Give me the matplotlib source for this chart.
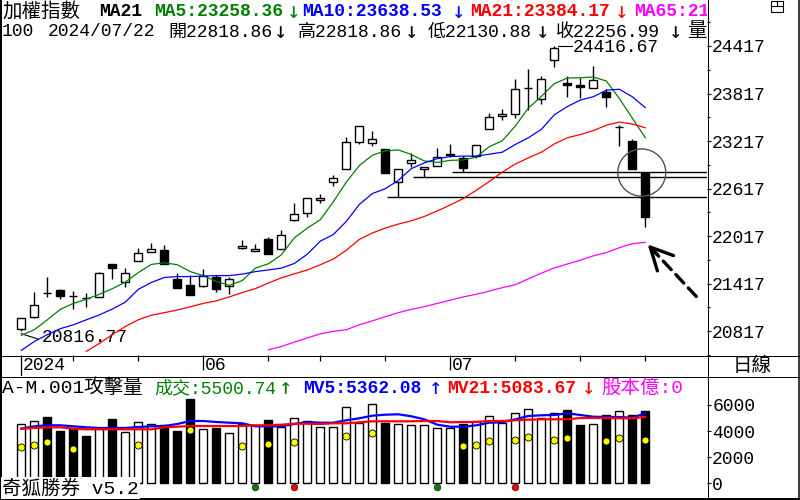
import numpy as np
import pandas as pd
import matplotlib
matplotlib.use("Agg")
import matplotlib.pyplot as plt
from matplotlib.patches import Ellipse, Rectangle
from matplotlib.lines import Line2D

plt.rcParams['font.family'] = ['Liberation Mono', 'Noto Sans CJK TC']

# trading days on screen (2024/06/10 was a holiday)
dates = pd.bdate_range("2024-05-14", "2024-07-22")
dates = dates[dates != pd.Timestamp("2024-06-10")]

opens = [20845, 20994, 21305, 21342, 21266, 21236, 21255, 21668, 21441, 21702,
         21814, 21842, 21478, 21395, 21387, 21507, 21387, 21863, 21826, 21979,
         21851, 22224, 22311, 22475, 22696, 22861, 23209, 23192, 23118, 22696,
         22944, 22869, 22907, 23035, 23006, 23026, 23370, 23532, 23553, 23886,
         23751, 24246, 23953, 23925, 23888, 23833, 23391, 23217, 22818.86]
highs = [20990, 21312, 21507, 21345, 21324, 21300, 21560, 21670, 21610, 21867,
         21929, 21904, 21553, 21532, 21606, 21528, 21507, 21967, 21913, 22000,
         22091, 22439, 22497, 22554, 22790, 23271, 23404, 23341, 23118, 22869,
         23072, 22894, 23134, 23184, 23031, 23168, 23569, 23627, 24000, 24128,
         24041, 24416.67, 24037, 24012, 24161, 23879, 23423, 23237, 22818.86]
lows = [20816.77, 20990, 21250, 21218, 21101, 21126, 21255, 21478, 21374, 21700,
        21814, 21665, 21367, 21280, 21374, 21312, 21283, 21851, 21826, 21796,
        21851, 22211, 22261, 22435, 22646, 22861, 23184, 23150, 22815, 22509,
        22894, 22761, 22907, 23022, 22832, 23001, 23370, 23485, 23507, 23610,
        23684, 24156, 23776, 23755, 23888, 23647, 23155, 22865, 22130.88]
closes = [20982, 21143, 21300, 21267, 21262, 21232, 21548, 21610, 21553, 21801,
          21851, 21665, 21367, 21280, 21519, 21349, 21473, 21888, 21851, 21796,
          22037, 22298, 22497, 22495, 22745, 23209, 23404, 23242, 22815, 22869,
          22981, 22894, 23019, 23058, 22882, 23168, 23515, 23555, 23875, 23890,
          24000, 24385, 23928, 23900, 23987, 23771, 23395, 22869, 22256.99]

nan = np.nan
ma5 = [20765, 20836, 20961, 21093, 21168, 21221, 21283, 21354, 21436, 21557,
       21660, 21681, 21656, 21569, 21519, 21445, 21395, 21457, 21613, 21668,
       21780, 21995, 22119, 22224, 22451, 22699, 22907, 23038, 23093, 23105,
       23047, 22966, 22948, 22973, 22979, 23016, 23146, 23221, 23407, 23631,
       23780, 23941, 24012, 24016, 24025, 23975, 23755, 23507, 23258.36]
ma10 = [20575, 20687, 20774, 20849, 20898, 20961, 21023, 21097, 21184, 21345,
        21432, 21495, 21507, 21507, 21513, 21519, 21519, 21538, 21569, 21590,
        21613, 21672, 21789, 21954, 22037, 22203, 22417, 22554, 22616, 22720,
        22869, 22941, 22995, 23022, 23027, 23027, 23051, 23076, 23174, 23258,
        23364, 23548, 23652, 23734, 23776, 23858, 23871, 23776, 23638.53]
ma21 = [nan, nan, nan, nan, nan, 20563, 20662, 20774, 20877, 20961,
        21019, 21051, 21085, 21126, 21168, 21200, 21250, 21305, 21354, 21424,
        21491, 21541, 21590, 21656, 21727, 21839, 21975, 22057, 22119, 22169,
        22211, 22265, 22335, 22410, 22492, 22596, 22706, 22824, 22927, 23004,
        23076, 23180, 23258, 23299, 23349, 23416, 23457, 23432, 23384.17]
ma65 = [nan] * 19 + [20582,
        20625, 20679, 20733, 20783, 20815, 20836, 20898, 20948, 21001, 21051,
        21093, 21126, 21168, 21209, 21250, 21283, 21324, 21367, 21404, 21478,
        21550, 21615, 21665, 21714, 21768, 21809, 21871, 21921, 21938.16]

volume = [4542, 4772, 5079, 4029, 4213, 3623, 4236, 4925, 3953, 4696,
          4542, 4443, 4029, 6457, 4159, 4236, 3853, 4542, 4443, 4849,
          4336, 4979, 4772, 4336, 4336, 5845, 4642, 6074, 4642, 4542,
          4466, 4466, 4213, 4213, 4542, 4772, 5132, 4642, 5362, 5668,
          4977, 5362, 5592, 4440, 4520, 5209, 5561, 5209, 5500.74]
mv5 = [4182, 4366, 4443, 4443, 4366, 4290, 4236, 4236, 4236, 4313,
       4366, 4389, 4542, 4772, 4772, 4696, 4642, 4596, 4366, 4366,
       4366, 4542, 4696, 4642, 4642, 4826, 4979, 5178, 5255, 5285,
       5132, 4902, 4489, 4336, 4336, 4443, 4642, 4673, 4902, 5155,
       5209, 5232, 5362, 5232, 5102, 5079, 5079, 5025, 5362.08]
mv21 = [4182, 4236, 4290, 4290, 4182, 4136, 4136, 4136, 4136, 4136,
        4136, 4290, 4336, 4389, 4389, 4389, 4389, 4389, 4443, 4443,
        4489, 4565, 4565, 4542, 4596, 4596, 4673, 4749, 4749, 4749,
        4749, 4772, 4772, 4673, 4696, 4696, 4772, 4772, 4826, 4872,
        4902, 4902, 4902, 5002, 5002, 5002, 4979, 4979, 5083.67]
# yellow "attack volume" dots
atk_idx = [0, 1, 2, 4, 9, 13, 17, 19, 21, 25, 27, 34, 35, 36, 38, 39, 41, 42, 45, 46, 48]
atk_val = [2804, 2957, 3187, 2650, 2957, 4106, 2857, 3033, 3141, 3646, 3876,
           2880, 2957, 3263, 3340, 3570, 3340, 3470, 3263, 3493, 3340]
buy_idx = [18, 32]
sell_idx = [21, 38]
support_idx = [29, 31, 34]

W, H = 800, 500
fig = plt.figure(figsize=(8, 5), dpi=100, facecolor='white')


def box(x0, y0, x1, y1):
    return [x0 / W, 1 - y1 / H, (x1 - x0) / W, (y1 - y0) / H]


def px(x, y):
    return x / W, 1 - y / H


def arrow_glyph(x, y, ch, color):
    # tall thin arrow like the bitmap font of the original
    fig.text(*px(x, y + 1), ch, color=color, family='DejaVu Sans Mono', fontsize=16,
             ha='center', va='baseline')


n = len(closes)
idx = np.arange(n)
xlim = (-(21.3 - 2) / 13, (707 - 21.3) / 13)
up = np.array(closes) >= np.array(opens)

# price panel
ax = fig.add_axes(box(2, 0, 707, 355))
ax.set_xlim(*xlim)
ax.set_ylim(20588, 24997)
for s in ax.spines.values():
    s.set_visible(False)
ax.set_xticks([])
ax.yaxis.tick_right()
ax.set_yticks(np.arange(20817, 24418, 600))
ax.set_yticks(np.arange(20517, 24998, 300), minor=True)
ax.tick_params(axis='y', which='major', length=3.2, width=0.8, pad=0.5, labelsize=13)
ax.tick_params(axis='y', which='minor', length=1.8, width=0.8)

ax.vlines(idx, lows, highs, color='black', lw=1.0, zorder=2)
ax.bar(idx, np.abs(np.array(closes) - np.array(opens)), bottom=np.minimum(opens, closes),
       width=0.62, color=np.where(up, 'white', 'black'), edgecolor='black', linewidth=1.0, zorder=3)

ax.plot(idx, ma5, color='#008000', lw=0.9, zorder=4)
ax.plot(idx, ma10, color='#0000ff', lw=0.9, zorder=4)
ax.plot(idx, ma21, color='#ff0000', lw=0.9, zorder=4)
ax.plot(idx, ma65, color='#ff00ff', lw=0.9, zorder=4)

for i in support_idx:
    ax.hlines(lows[i], i - 0.85, xlim[1], color='black', lw=1.0, zorder=1)

# highest / lowest labels
hi = int(np.argmax(highs))
ax.plot([hi + 0.25, hi + 1.35], [highs[hi], highs[hi]], color='black', lw=0.8)
ax.text(hi + 1.45, highs[hi] - 25, f'{highs[hi]:.2f}', fontsize=13, va='center')
lo = int(np.argmin(lows))
ax.plot([lo, lo + 1.3], [lows[lo] - 30, lows[lo] - 100], color='black', lw=0.8)
ax.text(lo + 1.55, lows[lo] - 85, f'{lows[lo]:.2f}', fontsize=13, va='center')

# breakdown circle and arrow
ax.add_patch(Ellipse((n - 1.27, opens[-1]), 48 / 13, 48 * 12.42, fill=False,
                     edgecolor='#505050', lw=1.0, zorder=5))
ax.annotate('', xy=(n - 1 + 0.18, ma65[-1] - 25), xytext=(35, -37.5), textcoords='offset points',
            arrowprops=dict(arrowstyle='-', lw=2.4, linestyle=(0, (3.5, 2)), color='black',
                            shrinkA=0, shrinkB=4))
ax.annotate('', xy=(n - 1 + 0.18, ma65[-1] - 25), xytext=(7, -7.4), textcoords='offset points',
            arrowprops=dict(arrowstyle='->,head_length=0.8,head_width=0.4', lw=2.4, color='black',
                            shrinkA=0, shrinkB=0, mutation_scale=20))

# header line 1
bold = dict(fontsize=13, fontweight='bold')
reg = dict(fontsize=13)
fig.text(*px(2, 16.5), '加權指數', color='black', va='baseline', fontsize=14)
fig.text(*px(99, 16.5), 'MA21', color='black', va='baseline', **bold)
for x0, xa, lab, v, col in [(154, 294, 'MA5', ma5[-1], '#008000'),
                            (301.7, 459, 'MA10', ma10[-1], '#0000ff'),
                            (470, 622, 'MA21', ma21[-1], '#ff0000')]:
    fig.text(*px(x0, 16.5), f'{lab}:{v:.2f}', color=col, va='baseline', **bold)
    arrow_glyph(xa, 16.5, '↓', col)
ax.text(*px(634, 16.5), f'MA65:{ma65[-1]:.2f}', color='#ff00ff', va='baseline',
        transform=fig.transFigure, clip_on=True, **bold)

# header line 2
day = dates[-1].strftime('%Y/%m/%d')
fig.text(*px(2, 36.5), '100', va='baseline', **reg)
fig.text(*px(48, 36.5), day, va='baseline', **reg)
for xx, xa, lab, v in [(168, 281, '開', opens[-1]), (298, 412, '高', highs[-1]),
                       (428, 543, '低', lows[-1]), (556, 676, '收', closes[-1])]:
    fig.text(*px(xx, 36.5), f'{lab}{v:.2f}', va='baseline', **reg)
    arrow_glyph(xa, 36.5, '↓', 'black')
ax.text(*px(687, 36.5), '量', va='baseline', transform=fig.transFigure, clip_on=True, fontsize=14)

# date strip
axd = fig.add_axes(box(2, 355, 707, 376))
axd.set_xlim(*xlim)
axd.set_ylim(0, 21)
axd.axis('off')
wk = dates.isocalendar().week.values
week_start = [i for i in range(n) if i == 0 or wk[i] != wk[i - 1]]
month_start = [i for i in range(1, n) if dates[i].month != dates[i - 1].month]
for i in week_start:
    if i == 0:
        y0 = 0
    elif i in month_start:
        y0 = 6
    else:
        y0 = 15
    axd.vlines(i, y0, 21, color='black', lw=0.9)
axd.text(0 + 0.15, 10, dates[0].strftime('%Y'), fontsize=13, va='center')
for i in month_start:
    axd.text(i + 0.15, 10, dates[i].strftime('%m'), fontsize=13, va='center')
fig.text(*px(752, 366), '日線', fontsize=14, ha='center', va='center')

# volume panel
axv = fig.add_axes(box(2, 376, 707, 497))
axv.set_xlim(*xlim)
axv.set_ylim(-1049, 8219)
for s in axv.spines.values():
    s.set_visible(False)
axv.set_xticks([])
axv.yaxis.tick_right()
axv.set_yticks([0, 2000, 4000, 6000])
axv.tick_params(axis='y', length=3.2, width=0.8, pad=0.5, labelsize=13)
axv.bar(idx, volume, width=0.62, color=np.where(up, 'white', 'black'),
        edgecolor='black', linewidth=1.0, zorder=2)
axv.plot(idx, mv5, color='#0000ff', lw=1.6, zorder=3)
axv.plot(idx, mv21, color='#ff0000', lw=1.6, zorder=3)
axv.scatter(atk_idx, atk_val, s=26, color='#ffff00', edgecolors='black', linewidths=0.6, zorder=4)
axv.scatter(buy_idx, [-260] * len(buy_idx), s=22, color='#008000', edgecolors='#203020',
            linewidths=0.6, zorder=4)
axv.scatter(sell_idx, [-260] * len(sell_idx), s=22, color='#ff0000', edgecolors='#402020',
            linewidths=0.6, zorder=4)

fig.text(*px(2, 393), 'A-M.001攻擊量', va='baseline', fontsize=14)
fig.text(*px(154, 393), f'成交:{volume[-1]:.2f}', color='#008000', va='baseline', **reg)
arrow_glyph(286, 393, '↑', '#008000')
fig.text(*px(303, 393), f'MV5:{mv5[-1]:.2f}', color='#0000ff', va='baseline', **bold)
arrow_glyph(436, 393, '↑', '#0000ff')
fig.text(*px(446.7, 393), f'MV21:{mv21[-1]:.2f}', color='#ff0000', va='baseline', **bold)
arrow_glyph(589, 393, '↓', '#ff0000')
fig.text(*px(601, 393), '股本億:0', color='#ff00ff', va='baseline', fontsize=14)
fig.text(*px(2, 488), '奇狐勝券 v5.2', va='center', zorder=10, fontsize=14,
         bbox=dict(facecolor='white', edgecolor='none', pad=1.0))

# frame
for (x0, y0, x1, y1, w) in [(1, 0, 1, 500, 2), (707.5, 0, 707.5, 500, 1),
                            (2, 355.5, 800, 355.5, 1), (0, 376.5, 800, 376.5, 1),
                            (0, 498.5, 800, 498.5, 2), (798.5, 0, 798.5, 500, 1.5)]:
    fig.add_artist(Line2D([x0 / W, x1 / W], [1 - y0 / H, 1 - y1 / H], color='black',
                          lw=w * 0.72, transform=fig.transFigure))

# window icon at the top right
fig.add_artist(Rectangle(px(771, 12), 12 / W, 11 / H, fill=False, lw=0.8, edgecolor='black',
                         transform=fig.transFigure))
fig.add_artist(Line2D([771 / W, 783 / W], [1 - 6 / H, 1 - 6 / H], color='black', lw=0.8,
                      transform=fig.transFigure))
fig.add_artist(Line2D([777 / W, 777 / W], [1 - 1 / H, 1 - 6 / H], color='black', lw=0.8,
                      transform=fig.transFigure))

fig.savefig('out.png', dpi=100, facecolor='white')
